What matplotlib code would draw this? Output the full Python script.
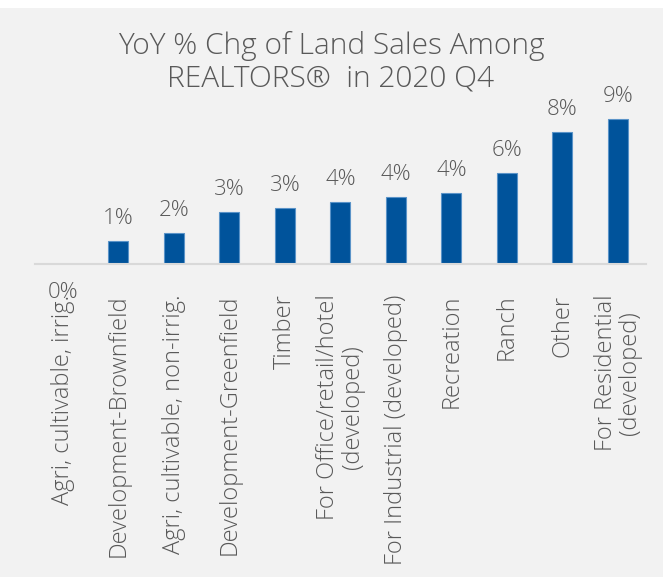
import matplotlib
matplotlib.use("Agg")
import matplotlib.pyplot as plt
from matplotlib.patches import Rectangle

# ==============================
# Data
# ==============================
categories = [
    "Agri, cultivable, irrig.",
    "Development-Brownfield",
    "Agri, cultivable, non-irrig.",
    "Development-Greenfield",
    "Timber",
    "For Office/retail/hotel\n(developed)",
    "For Industrial (developed)",
    "Recreation",
    "Ranch",
    "Other",
    "For Residential\n(developed)",
]
yoy_change = [-0.02, 1.44, 1.94, 3.25, 3.47, 3.88, 4.19, 4.44, 5.69, 8.25, 9.06]
value_labels = ["0%", "1%", "2%", "3%", "3%", "4%", "4%", "4%", "6%", "8%", "9%"]

TITLE = "YoY % Chg of Land Sales Among\nREALTORS®  in 2020 Q4"

BG       = "#f2f2f2"
BAR      = "#00539b"
BAR_EDGE = "#5a93c8"
TXT      = "#595959"
AXIS     = "#d9d9d9"

plt.rcParams['font.family'] = ['Open Sans', 'DejaVu Sans']
plt.rcParams['font.weight'] = 300

# ==============================
# Figure
# ==============================
W, H = 663, 577
fig = plt.figure(figsize=(W / 100, H / 100), dpi=100, facecolor=BG)
fig.patches.append(Rectangle((0, 1 - 8 / H), 1, 8 / H, transform=fig.transFigure,
                             facecolor="white", edgecolor="none", zorder=-1))

base_px = 264
top_px = 100
ax = fig.add_axes([35 / W, (H - base_px) / H, 610.75 / W, (base_px - top_px) / H])
ax.set_facecolor(BG)

x = list(range(len(categories)))
ax.bar(x, yoy_change, width=0.36, color=BAR, edgecolor=BAR_EDGE, linewidth=0.8, zorder=2)

for xi, v, lab in zip(x, yoy_change, value_labels):
    if v >= 0:
        ax.annotate(lab, (xi, v), xytext=(0, 17), textcoords="offset pixels",
                    ha="center", va="baseline", fontsize=16, color=TXT,
                    annotation_clip=False)
    else:
        ax.annotate(lab, (xi, 0), xytext=(0, -34), textcoords="offset pixels",
                    ha="center", va="baseline", fontsize=16, color=TXT,
                    annotation_clip=False)

ax.set_xlim(-0.5, len(categories) - 0.5)
ax.set_ylim(0, (base_px - top_px) / 16)

ax.set_xticks(x)
ax.set_xticklabels(categories, rotation=90, ha="center", va="top",
                   multialignment="center", fontsize=17, color=TXT,
                   linespacing=1.05)
ax.tick_params(axis="x", length=0, pad=22)
ax.set_yticks([])

for side in ["top", "right", "left"]:
    ax.spines[side].set_visible(False)
ax.spines["bottom"].set_color(AXIS)
ax.spines["bottom"].set_linewidth(1.5)
ax.spines["bottom"].set_zorder(3)

fig.text(331 / W, 1 - 62 / H, TITLE, ha="center", va="center", fontsize=21.5,
         color=TXT, linespacing=1.15)

fig.savefig("out.png", dpi=100, facecolor=BG)
plt.close()
